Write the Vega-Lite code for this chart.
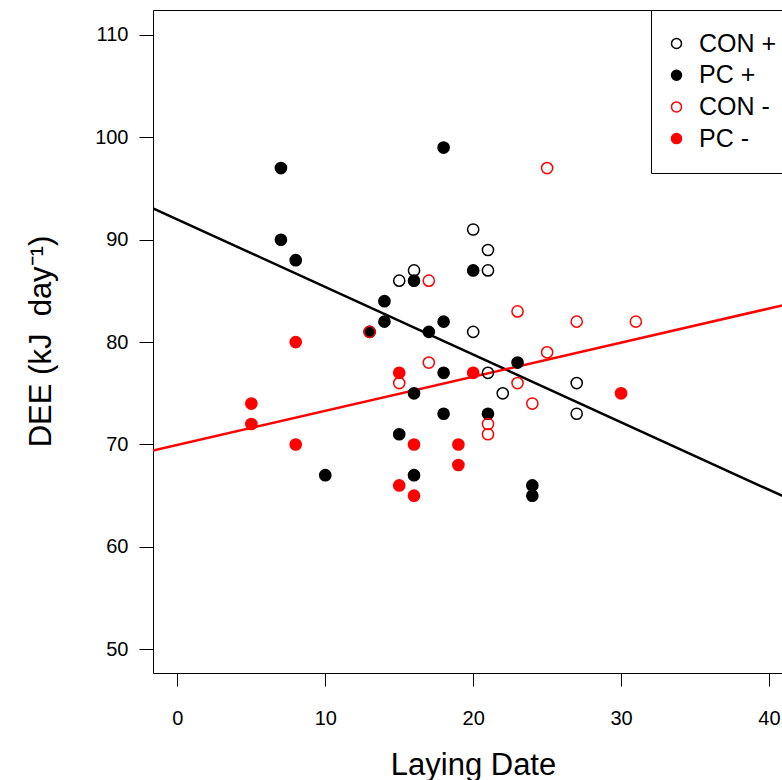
{
  "$schema": "https://vega.github.io/schema/vega-lite/v6.json",
  "width": 630,
  "height": 663,
  "autosize": {"type": "none"},
  "padding": {"left": 153, "top": 10, "right": 0, "bottom": 107},
  "background": "white",
  "config": {
    "view": {"stroke": "black", "strokeWidth": 1},
    "font": "Liberation Sans",
    "legend": {
      "orient": "none",
      "legendX": 498,
      "legendY": 0,
      "strokeColor": "black",
      "fillColor": "white",
      "padding": 21,
      "labelFontSize": 25,
      "labelColor": "black",
      "labelFont": "Liberation Sans",
      "symbolSize": 100,
      "symbolStrokeWidth": 1.5,
      "symbolOffset": -8,
      "rowPadding": 5.7,
      "labelOffset": 10
    }
  },
  "datasets": {
    "lines": [
      {"fit": "PC+", "x": -1.65, "y": 93.07},
      {"fit": "PC+", "x": 40.95, "y": 64.95},
      {"fit": "PC-", "x": -1.65, "y": 69.41},
      {"fit": "PC-", "x": 40.95, "y": 83.6}
    ],
    "points": [
      {"group": "CON +", "x": 15, "y": 86},
      {"group": "CON +", "x": 16, "y": 87},
      {"group": "CON +", "x": 20, "y": 91},
      {"group": "CON +", "x": 21, "y": 89},
      {"group": "CON +", "x": 21, "y": 87},
      {"group": "CON +", "x": 20, "y": 81},
      {"group": "CON +", "x": 21, "y": 77},
      {"group": "CON +", "x": 22, "y": 75},
      {"group": "CON +", "x": 27, "y": 76},
      {"group": "CON +", "x": 27, "y": 73},
      {"group": "PC +", "x": 7, "y": 97},
      {"group": "PC +", "x": 7, "y": 90},
      {"group": "PC +", "x": 8, "y": 88},
      {"group": "PC +", "x": 10, "y": 67},
      {"group": "PC +", "x": 13, "y": 81},
      {"group": "PC +", "x": 14, "y": 84},
      {"group": "PC +", "x": 14, "y": 82},
      {"group": "PC +", "x": 15, "y": 71},
      {"group": "PC +", "x": 16, "y": 86},
      {"group": "PC +", "x": 16, "y": 75},
      {"group": "PC +", "x": 16, "y": 67},
      {"group": "PC +", "x": 17, "y": 81},
      {"group": "PC +", "x": 18, "y": 99},
      {"group": "PC +", "x": 18, "y": 82},
      {"group": "PC +", "x": 18, "y": 77},
      {"group": "PC +", "x": 18, "y": 73},
      {"group": "PC +", "x": 20, "y": 87},
      {"group": "PC +", "x": 21, "y": 73},
      {"group": "PC +", "x": 23, "y": 78},
      {"group": "PC +", "x": 24, "y": 66},
      {"group": "PC +", "x": 24, "y": 65},
      {"group": "CON -", "x": 13, "y": 81},
      {"group": "CON -", "x": 15, "y": 76},
      {"group": "CON -", "x": 17, "y": 86},
      {"group": "CON -", "x": 17, "y": 78},
      {"group": "CON -", "x": 21, "y": 72},
      {"group": "CON -", "x": 21, "y": 71},
      {"group": "CON -", "x": 23, "y": 83},
      {"group": "CON -", "x": 23, "y": 76},
      {"group": "CON -", "x": 24, "y": 74},
      {"group": "CON -", "x": 25, "y": 97},
      {"group": "CON -", "x": 25, "y": 79},
      {"group": "CON -", "x": 27, "y": 82},
      {"group": "CON -", "x": 31, "y": 82},
      {"group": "PC -", "x": 5, "y": 74},
      {"group": "PC -", "x": 5, "y": 72},
      {"group": "PC -", "x": 8, "y": 80},
      {"group": "PC -", "x": 8, "y": 70},
      {"group": "PC -", "x": 15, "y": 77},
      {"group": "PC -", "x": 15, "y": 66},
      {"group": "PC -", "x": 16, "y": 70},
      {"group": "PC -", "x": 16, "y": 65},
      {"group": "PC -", "x": 19, "y": 70},
      {"group": "PC -", "x": 19, "y": 68},
      {"group": "PC -", "x": 20, "y": 77},
      {"group": "PC -", "x": 30, "y": 75}
    ]
  },
  "encoding": {
    "x": {
      "field": "x",
      "type": "quantitative",
      "scale": {"domain": [-1.65, 40.95], "nice": false, "zero": false},
      "axis": {
        "values": [0, 10, 20, 30, 40],
        "domain": false,
        "grid": false,
        "tickSize": 13,
        "tickColor": "black",
        "labelFontSize": 20,
        "labelColor": "black",
        "labelPadding": 22,
        "labelFlush": false,
        "title": "Laying Date",
        "titleFontSize": 31,
        "titleFontWeight": "normal",
        "titleColor": "black",
        "titleX": 320,
        "titleY": 101,
        "titleBaseline": "alphabetic"
      }
    },
    "y": {
      "field": "y",
      "type": "quantitative",
      "scale": {"domain": [47.68, 112.44], "nice": false, "zero": false},
      "axis": {
        "values": [50, 60, 70, 80, 90, 100, 110],
        "domain": false,
        "grid": false,
        "tickSize": 14,
        "tickColor": "black",
        "labelFontSize": 20,
        "labelColor": "black",
        "labelPadding": 11,
        "labelFlush": false,
        "title": "DEE (kJ\u00a0\u00a0day⁻¹)",
        "titleFontSize": 31,
        "titleFontWeight": "normal",
        "titleColor": "black",
        "titleX": -103,
        "titleY": 331,
        "titleBaseline": "alphabetic"
      }
    }
  },
  "layer": [
    {
      "data": {"name": "lines"},
      "mark": {"type": "line", "strokeWidth": 2.5, "clip": true},
      "encoding": {
        "color": {
          "field": "fit",
          "type": "nominal",
          "scale": {"domain": ["PC+", "PC-"], "range": ["black", "#FF0000"]},
          "legend": null
        }
      }
    },
    {
      "data": {"name": "points"},
      "mark": {"type": "point", "shape": "circle", "opacity": 1, "strokeWidth": 1.5, "size": 125},
      "encoding": {
        "fill": {
          "field": "group",
          "type": "nominal",
          "sort": null,
          "scale": {"domain": ["CON +", "PC +", "CON -", "PC -"], "range": ["transparent", "black", "transparent", "#FF0000"]},
          "legend": {"title": null}
        },
        "stroke": {
          "field": "group",
          "type": "nominal",
          "sort": null,
          "scale": {"domain": ["CON +", "PC +", "CON -", "PC -"], "range": ["black", "black", "#FF0000", "#FF0000"]},
          "legend": {"title": null}
        }
      }
    }
  ]
}
